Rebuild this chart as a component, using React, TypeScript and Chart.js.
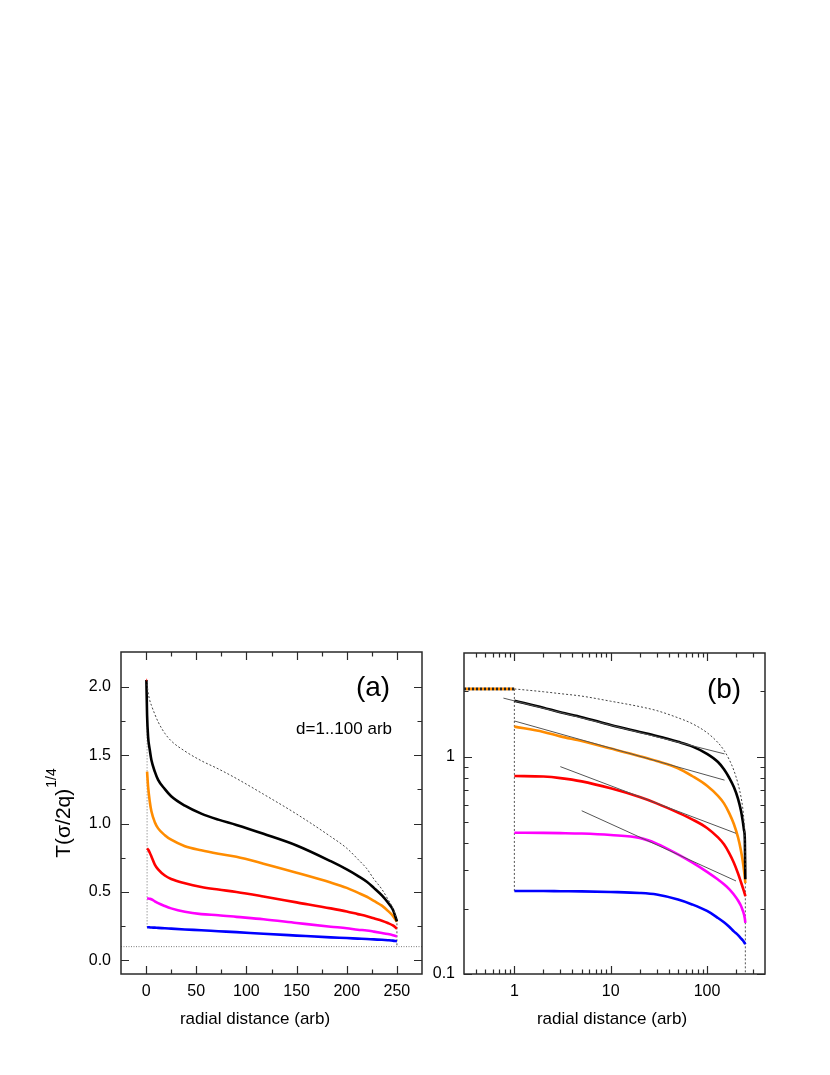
import React, { useEffect, useRef } from 'react';
import { Chart, registerables } from 'chart.js';

Chart.register(...registerables);

const FONT = '"Liberation Sans", Arial, Helvetica, sans-serif';

// ---------------- panel (a): linear radial distance ----------------
const radiusA = [1, 2, 3.7, 5.3, 8.7, 12, 18.7, 25, 38.7, 55, 72, 90, 117, 150, 184, 200, 211, 220, 227, 235, 241, 246, 250];
const blackA = [1.793, 1.635, 1.538, 1.465, 1.38, 1.32, 1.252, 1.2, 1.131, 1.073, 1.029, 0.99, 0.925, 0.84, 0.725, 0.665, 0.618, 0.575, 0.53, 0.475, 0.423, 0.37, 0.285];
const orangeA = [1.38, 1.27, 1.16, 1.09, 1.01, 0.965, 0.915, 0.882, 0.835, 0.805, 0.78, 0.757, 0.707, 0.641, 0.569, 0.53, 0.495, 0.465, 0.435, 0.4, 0.362, 0.325, 0.282];
const redA = [0.818, 0.81, 0.787, 0.76, 0.7, 0.665, 0.62, 0.595, 0.564, 0.537, 0.518, 0.5, 0.467, 0.424, 0.38, 0.357, 0.338, 0.323, 0.307, 0.29, 0.273, 0.255, 0.232];
const magentaA = [0.452, 0.452, 0.45, 0.447, 0.432, 0.418, 0.397, 0.38, 0.355, 0.338, 0.33, 0.318, 0.3, 0.273, 0.246, 0.235, 0.224, 0.218, 0.21, 0.2, 0.192, 0.184, 0.176];
const blueA = [0.242, 0.242, 0.241, 0.24, 0.239, 0.237, 0.235, 0.232, 0.226, 0.22, 0.213, 0.206, 0.194, 0.181, 0.168, 0.163, 0.159, 0.156, 0.153, 0.15, 0.147, 0.144, 0.14];
const limitA = [2.02, 1.96, 1.9, 1.865, 1.8, 1.744, 1.66, 1.605, 1.53, 1.46, 1.4, 1.33, 1.215, 1.07, 0.905, 0.82, 0.74, 0.67, 0.595, 0.52, 0.447, 0.38, 0.3];

// ---------------- panel (b): log-log ----------------
const radiusB = [1, 2, 3, 5, 10, 20, 30, 50, 70, 100, 130, 150, 170, 190, 210, 225, 235, 242, 247, 250];
const blackB = [1.81, 1.68, 1.6, 1.52, 1.4, 1.3, 1.245, 1.17, 1.115, 1.03, 0.945, 0.875, 0.8, 0.725, 0.64, 0.565, 0.505, 0.46, 0.415, 0.273];
const orangeB = [1.375, 1.3, 1.24, 1.18, 1.09, 1.005, 0.955, 0.885, 0.815, 0.735, 0.66, 0.61, 0.55, 0.49, 0.425, 0.37, 0.33, 0.3, 0.277, 0.262];
const redB = [0.815, 0.81, 0.797, 0.77, 0.715, 0.652, 0.61, 0.553, 0.515, 0.47, 0.425, 0.395, 0.36, 0.325, 0.29, 0.265, 0.25, 0.24, 0.233, 0.228];
const magentaB = [0.447, 0.446, 0.445, 0.443, 0.436, 0.423, 0.398, 0.355, 0.326, 0.295, 0.272, 0.259, 0.246, 0.232, 0.218, 0.206, 0.196, 0.188, 0.18, 0.172];
const blueB = [0.241, 0.241, 0.2405, 0.24, 0.2385, 0.236, 0.232, 0.22, 0.209, 0.195, 0.181, 0.173, 0.165, 0.157, 0.151, 0.146, 0.143, 0.1405, 0.1385, 0.137];
const limitB = [2.05, 1.99, 1.95, 1.9, 1.8, 1.7, 1.63, 1.51, 1.42, 1.29, 1.16, 1.07, 0.97, 0.865, 0.75, 0.655, 0.58, 0.505, 0.43, 0.3];

// ---------------- guide lines ----------------
const capRadius = [0.3, 1];
const capLevel = [2.05, 2.05];
const stepRadius = [1, 1];
const stepLevel = [2.05, 0.241];
const edgeRadius = [250, 250];
const edgeLevelA = [0.3, 0.1];
const edgeLevelB = [0.3, 0.1];
const floorRadius = [-25, 275];
const floorLevel = [0.1, 0.1];
const tangentRadius = [[0.77, 152], [1, 152], [3, 200], [5, 200]];
const tangentLevel = [[1.86, 1.03], [1.46, 0.78], [0.9, 0.444], [0.564, 0.268]];

// ---------------- ticks ----------------
const xMajorA = [0, 50, 100, 150, 200, 250];
const xMinorA = [25, 75, 125, 175, 225];
const yMajorA = [0, 0.5, 1, 1.5, 2];
const yMinorA = [0.25, 0.75, 1.25, 1.75];
const xMajorB = [1, 10, 100];
const xMinorB = [0.4, 0.5, 0.6, 0.7, 0.8, 0.9, 2, 3, 4, 5, 6, 7, 8, 9, 20, 30, 40, 50, 60, 70, 80, 90, 200, 300];
const yMajorB = [0.1, 1];
const yMinorB = [0.2, 0.3, 0.4, 0.5, 0.6, 0.7, 0.8, 0.9, 2];

const COLORS = { black: '#000000', orange: '#ff8c00', red: '#ff0000', magenta: '#ff00ff', blue: '#0000ff' };

const pts = (xs: number[], ys: number[]) => xs.map((x, i) => ({ x, y: ys[i] }));

const curve = (label: string, data: any[], color: string, order: number) => ({
  label, data, borderColor: color, backgroundColor: color, borderWidth: 2.6,
  pointRadius: 0, cubicInterpolationMode: 'monotone', fill: false, order,
});

const guide = (label: string, data: any[], color: string, width: number, dash: number[], order: number, smooth = false, dashOffset = 0) => ({
  label, data, borderColor: color, backgroundColor: color, borderWidth: width, borderDash: dash,
  borderDashOffset: dashOffset, pointRadius: 0, fill: false, order,
  ...(smooth ? { cubicInterpolationMode: 'monotone' } : { tension: 0 }),
});

type Area = { left: number; right: number; top: number; bottom: number };

function framePlugin(xMajor: number[], xMinor: number[], yMajor: number[], yMinor: number[], drawText: (ctx: CanvasRenderingContext2D, a: Area) => void) {
  return {
    id: 'frameTicks',
    afterDatasetsDraw(chart: any) {
      const { ctx, chartArea } = chart;
      const { left, right, top, bottom } = chartArea;
      const xs = chart.scales.x;
      const ys = chart.scales.y;
      ctx.save();
      ctx.strokeStyle = '#2a2a2a';
      ctx.lineWidth = 1.2;
      ctx.beginPath();
      const xt = (vals: number[], len: number) => vals.forEach((v) => {
        const p = Math.round(xs.getPixelForValue(v)) + 0.5;
        ctx.moveTo(p, bottom); ctx.lineTo(p, bottom - len);
        ctx.moveTo(p, top); ctx.lineTo(p, top + len);
      });
      const yt = (vals: number[], len: number) => vals.forEach((v) => {
        const p = Math.round(ys.getPixelForValue(v)) + 0.5;
        ctx.moveTo(left, p); ctx.lineTo(left + len, p);
        ctx.moveTo(right, p); ctx.lineTo(right - len, p);
      });
      xt(xMajor, 8); xt(xMinor, 4.5); yt(yMajor, 8); yt(yMinor, 4.5);
      ctx.stroke();
      ctx.lineWidth = 1.5;
      ctx.strokeRect(left, top, right - left, bottom - top);
      ctx.fillStyle = '#000';
      drawText(ctx, chartArea);
      ctx.restore();
    },
  };
}

function axisCommon(size: number, fixed: 'w' | 'h', major: number[], fmt: (v: number) => string, pad: number) {
  return {
    grid: { display: false, drawTicks: false },
    border: { display: false },
    afterBuildTicks: (s: any) => { s.ticks = major.map((v) => ({ value: v })); },
    afterFit: (s: any) => {
      if (fixed === 'w') { s.width = size; s.paddingTop = 0; s.paddingBottom = 0; }
      else { s.height = size; s.paddingLeft = 0; s.paddingRight = 0; }
    },
    ticks: { font: { family: FONT, size: 16 }, color: '#000', padding: pad, autoSkip: false, maxRotation: 0, minRotation: 0, callback: (v: any) => fmt(Number(v)) },
  };
}

function configA(): any {
  const drawText = (ctx: CanvasRenderingContext2D, a: Area) => {
    ctx.textBaseline = 'middle';
    ctx.textAlign = 'center';
    ctx.font = `28px ${FONT}`;
    ctx.fillText('(a)', a.right - 49, a.top + 36);
    ctx.font = `17px ${FONT}`;
    ctx.textAlign = 'right';
    ctx.fillText('d=1..100 arb', a.right - 30, a.top + 77);
    ctx.textAlign = 'center';
    ctx.fillText('radial distance (arb)', a.left + 134, a.bottom + 45);
    // rotated y title with superscript
    const main = 'T(\u03c3/2q)';
    const sup = '1/4';
    ctx.font = `21px ${FONT}`;
    const wMain = ctx.measureText(main).width;
    ctx.font = `14px ${FONT}`;
    const wSup = ctx.measureText(sup).width;
    const total = wMain + 1 + wSup;
    ctx.save();
    ctx.translate(a.left - 51, (a.top + a.bottom) / 2);
    ctx.rotate(-Math.PI / 2);
    ctx.textAlign = 'left';
    ctx.textBaseline = 'alphabetic';
    ctx.font = `21px ${FONT}`;
    ctx.fillText(main, -total / 2, 0);
    ctx.font = `14px ${FONT}`;
    ctx.fillText(sup, -total / 2 + wMain + 1, -14);
    ctx.restore();
  };
  return {
    type: 'line',
    data: {
      datasets: [
        guide('floor', pts(floorRadius, floorLevel), '#7a7a7a', 1, [1, 1.5], 9),
        guide('step', pts(stepRadius, stepLevel), '#a0a0a0', 1, [1.5, 1.5], 8),
        guide('edge', pts(edgeRadius, edgeLevelA), '#555555', 1, [2, 2], 8),
        curve('blue', pts(radiusA, blueA), COLORS.blue, 6),
        curve('magenta', pts(radiusA, magentaA), COLORS.magenta, 5),
        curve('red', pts(radiusA, redA), COLORS.red, 4),
        curve('orange', pts(radiusA, orangeA), COLORS.orange, 3),
        curve('black', pts([capRadius[0], ...radiusA], [capLevel[0], ...blackA]), COLORS.black, 2),
        guide('cap', pts(capRadius, capLevel), COLORS.red, 2.6, [], 1),
        guide('limit', pts(radiusA, limitA), '#444444', 1, [2, 2], 1, true),
      ],
    },
    options: {
      responsive: false,
      animation: false,
      devicePixelRatio: 1,
      layout: { padding: { left: 0, right: 3, top: 52, bottom: 0 } },
      plugins: { legend: { display: false }, tooltip: { enabled: false } },
      scales: {
        x: { type: 'linear', min: -25, max: 275, ...axisCommon(101, 'h', xMajorA, (v) => String(v), 8) },
        y: { type: 'linear', min: -0.1, max: 2.255, ...axisCommon(121, 'w', yMajorA, (v) => v.toFixed(1), 10) },
      },
    },
    plugins: [framePlugin(xMajorA, xMinorA, yMajorA, yMinorA, drawText)],
  };
}

function configB(): any {
  const drawText = (ctx: CanvasRenderingContext2D, a: Area) => {
    ctx.textBaseline = 'middle';
    ctx.textAlign = 'center';
    ctx.font = `28px ${FONT}`;
    ctx.fillText('(b)', a.right - 41, a.top + 37);
    ctx.font = `17px ${FONT}`;
    ctx.fillText('radial distance (arb)', a.left + 148, a.bottom + 45);
  };
  const tangents = tangentRadius.map((r, i) => guide('tangent' + i, pts(r, tangentLevel[i]), '#555555', 1, [], 0));
  const fmtLog = (v: number) => {
    const l = Math.log10(v);
    return Math.abs(l - Math.round(l)) < 1e-9 ? String(Number(v.toPrecision(3))) : '';
  };
  return {
    type: 'line',
    data: {
      datasets: [
        guide('step', pts(stepRadius, stepLevel), '#555555', 1, [2, 2], 8),
        guide('edge', pts(edgeRadius, edgeLevelB), '#555555', 1, [2, 2], 8),
        curve('blue', pts(radiusB, blueB), COLORS.blue, 6),
        curve('magenta', pts(radiusB, magentaB), COLORS.magenta, 5),
        curve('red', pts(radiusB, redB), COLORS.red, 4),
        curve('orange', pts(radiusB, orangeB), COLORS.orange, 3),
        curve('black', pts(radiusB, blackB), COLORS.black, 2),
        guide('cap', pts(capRadius, capLevel), '#222222', 3, [2, 2], 2),
        guide('capColour', pts(capRadius, capLevel), COLORS.orange, 3, [2, 2], 2, false, 2),
        guide('limit', pts(radiusB, limitB), '#444444', 1, [2, 2], 1, true),
        ...tangents,
      ],
    },
    options: {
      responsive: false,
      animation: false,
      devicePixelRatio: 1,
      layout: { padding: { left: 0, right: 65, top: 53, bottom: 0 } },
      plugins: { legend: { display: false }, tooltip: { enabled: false } },
      scales: {
        x: { type: 'logarithmic', min: 0.3, max: 400, ...axisCommon(101, 'h', xMajorB, fmtLog, 8) },
        y: { type: 'logarithmic', min: 0.1, max: 3, ...axisCommon(39, 'w', yMajorB, fmtLog, 9) },
      },
    },
    plugins: [framePlugin(xMajorB, xMinorB, yMajorB, yMinorB, drawText)],
  };
}

export default function App() {
  const refA = useRef<HTMLCanvasElement>(null);
  const refB = useRef<HTMLCanvasElement>(null);
  useEffect(() => {
    const a = new Chart(refA.current as HTMLCanvasElement, configA());
    const b = new Chart(refB.current as HTMLCanvasElement, configB());
    return () => { a.destroy(); b.destroy(); };
  }, []);
  return (
    <div style={{ position: 'absolute', left: 0, top: 0, width: 830, height: 1075, background: '#ffffff' }}>
      <canvas ref={refA} width={425} height={475} style={{ position: 'absolute', left: 0, top: 600, width: 425, height: 475 }} />
      <canvas ref={refB} width={405} height={475} style={{ position: 'absolute', left: 425, top: 600, width: 405, height: 475 }} />
    </div>
  );
}
